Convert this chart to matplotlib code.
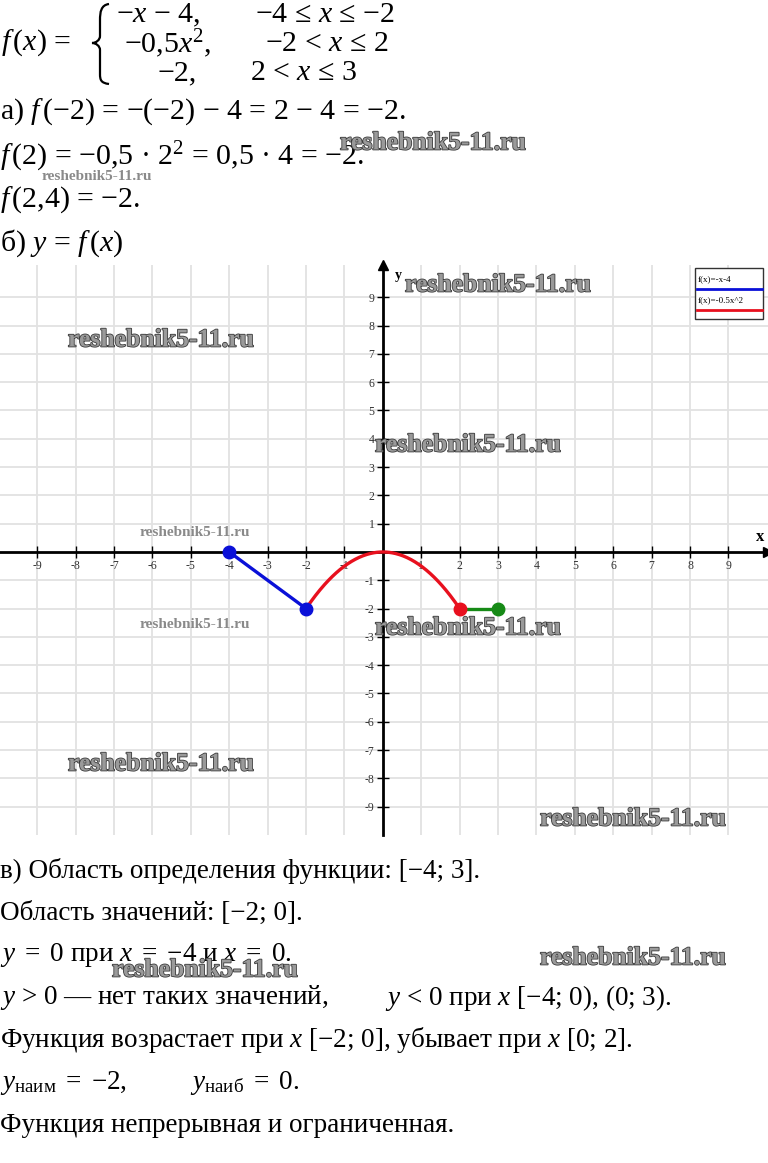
import numpy as np
import matplotlib
matplotlib.use("Agg")
import matplotlib.pyplot as plt
from matplotlib.path import Path
from matplotlib.patches import PathPatch, Rectangle
from matplotlib.lines import Line2D
import matplotlib.patheffects as pe

plt.rcParams['font.family'] = ['Liberation Serif', 'DejaVu Serif']
plt.rcParams['mathtext.fontset'] = 'custom'
plt.rcParams['mathtext.rm'] = 'Liberation Serif'
plt.rcParams['mathtext.it'] = 'Liberation Serif:italic'
plt.rcParams['mathtext.bf'] = 'Liberation Serif:bold'

# ---------------- data ----------------
x_ticks = [-9, -8, -7, -6, -5, -4, -3, -2, -1, 1, 2, 3, 4, 5, 6, 7, 8, 9]
y_ticks = [-9, -8, -7, -6, -5, -4, -3, -2, -1, 1, 2, 3, 4, 5, 6, 7, 8, 9]

line_x = [-4, -2]          # f(x) = -x - 4
line_y = [0, -2]
parab_domain = [-2, 2]     # f(x) = -0.5 x^2
parab_coef = -0.5
const_x = [2, 3]           # f(x) = -2
const_y = [-2, -2]

blue_pts_x = [-4, -2]
blue_pts_y = [0, -2]
red_pts_x = [2]
red_pts_y = [-2]
green_pts_x = [3]
green_pts_y = [-2]

legend_labels = ["f(x)=-x-4", "f(x)=-0.5x^2"]

BLUE = "#0a10d8"
RED = "#e8101e"
GREEN = "#168a16"

W, H = 768, 1163
fig = plt.figure(figsize=(W / 100, H / 100), dpi=100)


def fx(px):
    return px / W


def fy(py):
    return 1 - py / H


FS = 19.5      # body text
FH = 21.5      # header formulas
EQ = r"$\,$ = $\,$"

# ---------------- header text ----------------
fig.text(fx(1), fy(43), r"$f\,$($x$) =", fontsize=FH, va='center', ha='left')
# brace
bx = 104
verts = [(bx + 5, 4), (bx - 3, 5), (bx - 4, 12), (bx - 4, 20),
         (bx - 4, 28), (bx - 4, 36), (bx - 4, 36),
         (bx - 4, 40), (bx - 8, 43), (bx - 12, 43),
         (bx - 8, 43), (bx - 4, 46), (bx - 4, 50),
         (bx - 4, 58), (bx - 4, 66), (bx - 4, 74),
         (bx - 4, 80), (bx - 3, 83), (bx + 5, 84)]
codes = [Path.MOVETO] + [Path.CURVE4] * 18
verts_fig = [(fx(a), fy(b)) for a, b in verts]
fig.patches.append(PathPatch(Path(verts_fig, codes), transform=fig.transFigure,
                             fill=False, lw=1.6, color='black'))

fig.text(fx(116), fy(15), r"−$x$ − 4,", fontsize=FH, va='center')
fig.text(fx(255), fy(15), r"−4 ≤ $x$ ≤ −2", fontsize=FH, va='center')
fig.text(fx(124), fy(44), r"−0,5$x^2$,", fontsize=FH, va='center')
fig.text(fx(265), fy(44), r"−2 < $x$ ≤ 2", fontsize=FH, va='center')
fig.text(fx(158), fy(73), r"−2,", fontsize=FH, va='center')
fig.text(fx(250), fy(73), r"2 < $x$ ≤ 3", fontsize=FH, va='center')

fig.text(fx(0), fy(112), r"а) $f\,$(−2) = −(−2) − 4 = 2 − 4 = −2.", fontsize=FH, va='center')
fig.text(fx(0), fy(157), r"$f\,$(2) = −0,5 · $2^2$ = 0,5 · 4 = −2.", fontsize=FH, va='center')
fig.text(fx(0), fy(200), r"$f\,$(2,4) = −2.", fontsize=FH, va='center')
fig.text(fx(0), fy(243), r"б) $y$ = $f\,$($x$)", fontsize=FH, va='center')

# ---------------- graph ----------------
ax = fig.add_axes([0, 1 - 835 / H, 1, 570 / H])
ax.set_xlim(-9.97, 10.03)
ax.set_ylim(-10.0, 10.14)
ax.set_xticks(x_ticks)
ax.set_yticks(y_ticks)
ax.grid(True, color='#e2e2e2', lw=1.3, zorder=0)
for s in ['top', 'right']:
    ax.spines[s].set_visible(False)
ax.spines['left'].set_position('zero')
ax.spines['bottom'].set_position('zero')
for s in ['left', 'bottom']:
    ax.spines[s].set_linewidth(2.0)
    ax.spines[s].set_zorder(2)
ax.tick_params(direction='inout', length=8, width=1.0, color='black',
               labelsize=8.5, labelcolor='#333333', pad=2)
ax.set_xticklabels([str(t) for t in x_ticks])
ax.set_yticklabels([str(t) for t in y_ticks])
ax.plot(1, 0, '>k', ms=7, transform=ax.get_yaxis_transform(), clip_on=False)
ax.plot(0, 1, '^k', ms=7, transform=ax.get_xaxis_transform(), clip_on=False)

ax.plot(line_x, line_y, color=BLUE, lw=2.4, zorder=3)
xp = np.linspace(parab_domain[0], parab_domain[1], 200)
ax.plot(xp, parab_coef * xp ** 2, color=RED, lw=2.4, zorder=3)
ax.plot(const_x, const_y, color=GREEN, lw=2.4, zorder=3)
ax.plot(red_pts_x, red_pts_y, 'o', color=RED, ms=9, zorder=4)
ax.plot(green_pts_x, green_pts_y, 'o', color=GREEN, ms=9, zorder=4)
ax.plot(blue_pts_x, blue_pts_y, 'o', color=BLUE, ms=9, zorder=5)

fig.text(fx(760), fy(537), "x", fontsize=12, fontweight='bold', ha='center', va='center')
fig.text(fx(398), fy(276), "y", fontsize=10, fontweight='bold', ha='center', va='center')

# legend
fig.patches.append(Rectangle((fx(695), fy(319)), fx(763) - fx(695), fy(268) - fy(319),
                             transform=fig.transFigure, fill=True, facecolor='white',
                             edgecolor='#333333', lw=1.0, zorder=5))
fig.text(fx(698), fy(279), legend_labels[0], fontsize=6.5, va='center', zorder=6)
fig.lines.append(Line2D([fx(697), fx(762)], [fy(289), fy(289)], transform=fig.transFigure,
                        color=BLUE, lw=2, zorder=6))
fig.text(fx(698), fy(300), legend_labels[1], fontsize=6.5, va='center', zorder=6)
fig.lines.append(Line2D([fx(697), fx(762)], [fy(310), fy(310)], transform=fig.transFigure,
                        color=RED, lw=2, zorder=6))

# ---------------- footer text ----------------
fig.text(fx(0), fy(871), r"в) Область определения функции: [−4; 3].", fontsize=FS, va='center')
fig.text(fx(0), fy(913), r"Область значений: [−2; 0].", fontsize=FS, va='center')
fig.text(fx(0), fy(955), r"$y$" + EQ + r"0 при $x$" + EQ + r"−4 и $x$" + EQ + r"0.",
         fontsize=FS, va='center')
fig.text(fx(0), fy(998), r"$y$ > 0 — нет таких значений,", fontsize=FS, va='center')
fig.text(fx(385), fy(998), r"$y$ < 0 при $x$ [−4; 0), (0; 3).", fontsize=FS, va='center')
fig.text(fx(0), fy(1040), r"Функция возрастает при $x$ [−2; 0], убывает при $x$ [0; 2].",
         fontsize=FS, va='center')
fig.text(fx(0), fy(1083), r"$y_{\mathrm{наим}}$" + EQ + r"−2,", fontsize=FS, va='center')
fig.text(fx(190), fy(1083), r"$y_{\mathrm{наиб}}$" + EQ + r"0.", fontsize=FS, va='center')
fig.text(fx(0), fy(1125), r"Функция непрерывная и ограниченная.", fontsize=FS, va='center')

# ---------------- watermarks ----------------
wm = "reshebnik5-11.ru"
wm_big = [(405, 285), (68, 340), (375, 445), (375, 628), (68, 764), (540, 819),
          (540, 958), (340, 143), (112, 970)]
wm_small = [(42, 176), (140, 532), (140, 624)]
eff = [pe.Stroke(linewidth=1.2, foreground='#3c3c3c'), pe.Normal()]
for (px, py) in wm_big:
    fig.text(fx(px), fy(py), wm, fontsize=18.5, fontweight='bold', color='#9a9a9a',
             ha='left', va='center', path_effects=eff, zorder=10)
for (px, py) in wm_small:
    fig.text(fx(px), fy(py), wm, fontsize=11, fontweight='bold', color='#8a8a8a',
             ha='left', va='center', zorder=10)

fig.savefig("out.png", dpi=100)
